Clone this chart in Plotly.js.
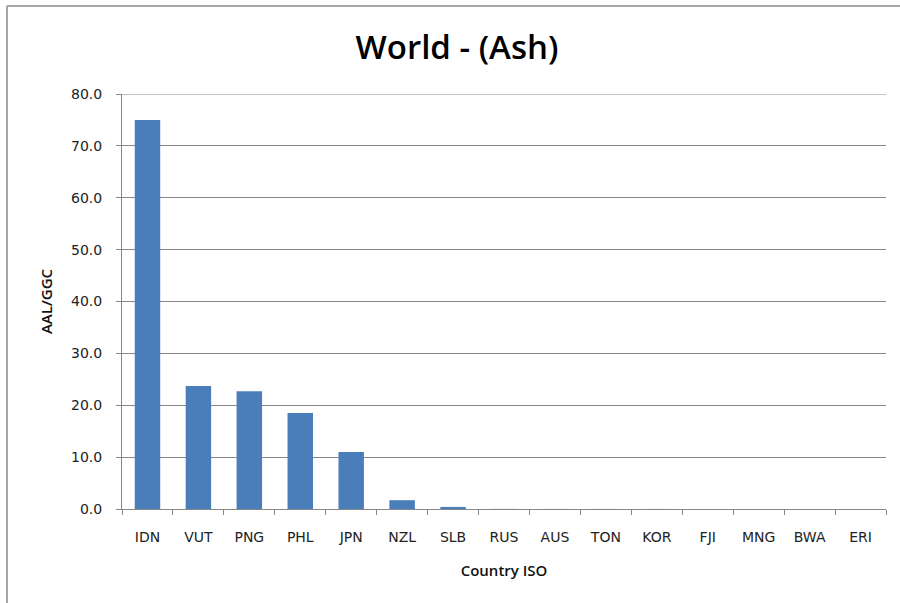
<!DOCTYPE html>
<html>
<head>
<meta charset="utf-8">
<script src="https://cdn.plot.ly/plotly-3.0.1.min.js"></script>
<style>
html,body{margin:0;padding:0;background:#fff;}
#chart{width:900px;height:603px;}
</style>
</head>
<body>
<div id="chart"></div>
<script>
const countries = ["IDN","VUT","PNG","PHL","JPN","NZL","SLB","RUS","AUS","TON","KOR","FJI","MNG","BWA","ERI"];
const aalGgc = [75.0, 23.7, 22.7, 18.5, 11.0, 1.7, 0.4, 0.02, 0.01, 0.01, 0.01, 0.0, 0.0, 0.0, 0.0];
const yTicks = [0, 10, 20, 30, 40, 50, 60, 70, 80];

const W = 900, H = 603;
const mL = 122, mR = 14, mT = 94, mB = 94;
const pw = W - mL - mR, ph = H - mT - mB;
const px = x => (x - mL) / pw;
const py = y => (H - mB - y) / ph;

const trace = {
  type: 'bar',
  x: countries,
  y: aalGgc,
  marker: {color: '#4a7ebb'},
  hoverinfo: 'x+y'
};

const layout = {
  width: W, height: H,
  margin: {l: mL, r: mR, t: mT, b: mB, pad: 0},
  paper_bgcolor: '#ffffff',
  plot_bgcolor: '#ffffff',
  showlegend: false,
  bargap: 0.5,
  title: {
    text: 'World - (Ash)',
    font: {family: 'Open Sans, Noto Sans, sans-serif', size: 33, color: '#000', weight: 600},
    x: 457 / W, xref: 'container', xanchor: 'center',
    y: 1 - 47 / H, yref: 'container', yanchor: 'middle'
  },
  xaxis: {
    type: 'category',
    tickson: 'boundaries',
    ticks: 'outside', ticklen: 5, tickcolor: '#868686', tickwidth: 1,
    showline: true, linecolor: '#868686', linewidth: 1,
    showgrid: false,
    ticklabelstandoff: 15,
    tickfont: {family: 'DejaVu Sans, Verdana, sans-serif', size: 14, color: '#222'},
    title: {text: 'Country ISO', font: {family: 'Open Sans, sans-serif', size: 15, color: '#111', weight: 600}, standoff: 21},
    automargin: false
  },
  yaxis: {
    range: [0, 80],
    tickvals: yTicks,
    tickformat: '.1f',
    ticks: 'outside', ticklen: 5, tickcolor: '#868686', tickwidth: 1,
    showline: true, linecolor: '#868686', linewidth: 1,
    showgrid: true, gridcolor: '#868686', gridwidth: 1,
    zeroline: false,
    ticklabelstandoff: 11,
    tickfont: {family: 'DejaVu Sans, Verdana, sans-serif', size: 14, color: '#222'},
    title: {text: 'AAL/GGC', font: {family: 'Open Sans, sans-serif', size: 15, color: '#111', weight: 600}, standoff: 14},
    automargin: false
  },
  shapes: [
    {type: 'line', xref: 'paper', yref: 'y', x0: 0, x1: 1, y0: 80, y1: 80,
     line: {color: '#868686', width: 1}},
    {type: 'line', xref: 'paper', yref: 'paper', x0: px(7), x1: px(7), y0: py(6), y1: py(610),
     line: {color: '#a6a6a6', width: 2}},
    {type: 'line', xref: 'paper', yref: 'paper', x0: px(7), x1: px(910), y0: py(6), y1: py(6),
     line: {color: '#a6a6a6', width: 2}}
  ]
};

Plotly.newPlot('chart', [trace], layout, {displayModeBar: false, staticPlot: true});
</script>
</body>
</html>
